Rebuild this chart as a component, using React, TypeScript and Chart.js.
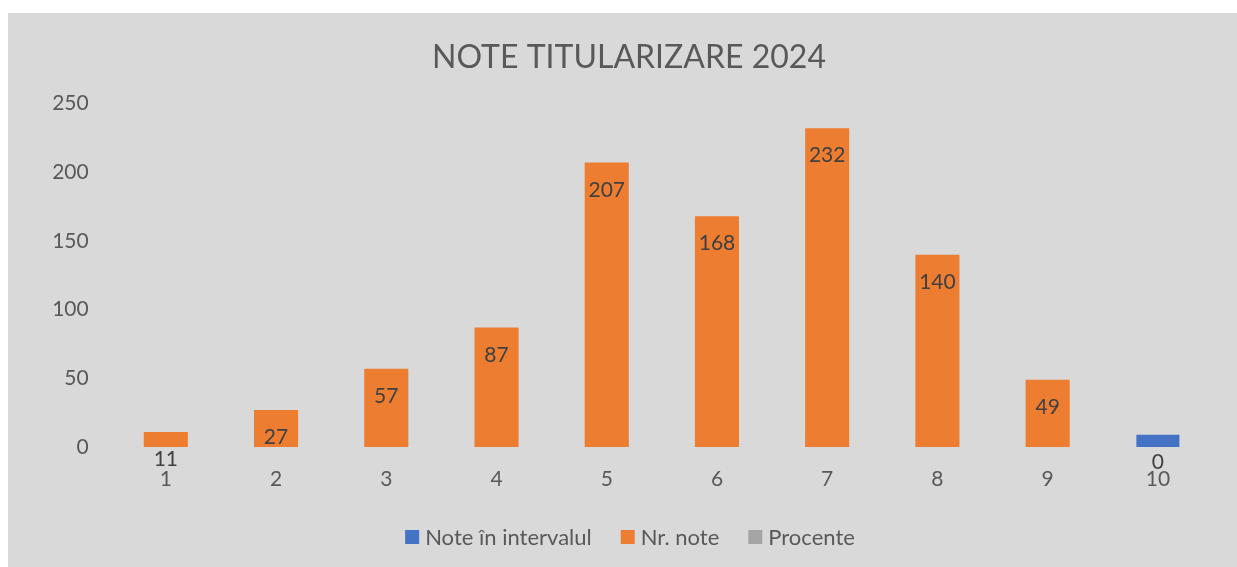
import React, { useEffect, useRef } from "react";
import { Chart, registerables } from "chart.js";

Chart.register(...registerables);

const categories = ["1", "2", "3", "4", "5", "6", "7", "8", "9", "10"];
const noteInterval = [1, 2, 3, 4, 5, 6, 7, 8, 9, 9];
const nrNote = [11, 27, 57, 87, 207, 168, 232, 140, 49, 0];
const procente = [0.011, 0.028, 0.058, 0.089, 0.212, 0.172, 0.237, 0.143, 0.05, 0];
const yTicks = [0, 50, 100, 150, 200, 250];
const title = "NOTE TITULARIZARE 2024";
const seriesNames = ["Note în intervalul", "Nr. note", "Procente"];
const seriesColors = ["#4472C4", "#ED7D31", "#A5A5A5"];

const FONT = "Lato";
const TEXT = "#595959";
const LABEL = "#404040";

const overlay = {
  id: "overlay",
  beforeDraw(chart: any) {
    const { ctx, width, height } = chart;
    ctx.save();
    ctx.fillStyle = "#D9D9D9";
    ctx.fillRect(0, 0, width, height);
    ctx.restore();
  },
  afterDraw(chart: any) {
    const { ctx } = chart;
    ctx.save();
    // title
    ctx.fillStyle = TEXT;
    ctx.font = `32px ${FONT}`;
    ctx.textAlign = "center";
    ctx.textBaseline = "middle";
    ctx.fillText(title, 621, 45);

    // data labels for Nr. note
    const meta = chart.getDatasetMeta(1);
    const yScale = chart.scales.y;
    const base = yScale.getPixelForValue(0);
    ctx.font = `21px ${FONT}`;
    ctx.fillStyle = LABEL;
    meta.data.forEach((bar: any, i: number) => {
      const y = Math.min(bar.y + 27.5, base + 15);
      ctx.fillText(String(nrNote[i]), bar.x, y);
    });

    // legend
    ctx.font = `22px ${FONT}`;
    const box = 14;
    const gap = 6;
    const spacing = 29;
    const widths = seriesNames.map((n) => ctx.measureText(n).width);
    const total =
      widths.reduce((a, w) => a + box + gap + w, 0) + spacing * (seriesNames.length - 1);
    let x = 622 - total / 2;
    const ly = 524;
    ctx.textAlign = "left";
    seriesNames.forEach((n, i) => {
      ctx.fillStyle = seriesColors[i];
      ctx.fillRect(x, ly - box / 2, box, box);
      ctx.fillStyle = TEXT;
      ctx.fillText(n, x + box + gap, ly + 1);
      x += box + gap + widths[i] + spacing;
    });
    ctx.restore();
  },
};

export default function App() {
  const ref = useRef<HTMLCanvasElement>(null);
  useEffect(() => {
    if (!ref.current) return;
    const chart = new Chart(ref.current, {
      type: "bar",
      data: {
        labels: categories,
        datasets: [
          {
            label: seriesNames[0],
            data: noteInterval,
            backgroundColor: seriesColors[0],
            barPercentage: 0.39,
            order: 1,
          },
          {
            label: seriesNames[1],
            data: nrNote,
            backgroundColor: seriesColors[1],
            order: 0,
          },
          {
            label: seriesNames[2],
            data: procente,
            backgroundColor: seriesColors[2],
            barPercentage: 0.39,
            order: 2,
          },
        ],
      },
      options: {
        responsive: false,
        animation: false,
        layout: { padding: { top: 90.5, bottom: 54.8, left: 0, right: 24 } },
        datasets: { bar: { barPercentage: 0.4, categoryPercentage: 1 } },
        plugins: {
          legend: { display: false },
          title: { display: false },
          tooltip: { enabled: false },
        },
        scales: {
          x: {
            stacked: true,
            grid: { display: false, drawTicks: false },
            border: { display: false },
            ticks: { color: TEXT, font: { family: FONT, size: 21 }, padding: 20 },
          },
          y: {
            stacked: false,
            min: 0,
            max: 250,
            grid: { display: false, drawTicks: false },
            border: { display: false },
            afterFit: (scale: any) => {
              scale.width = 102.7;
            },
            afterBuildTicks: (scale: any) => {
              scale.ticks = yTicks.map((v) => ({ value: v }));
            },
            ticks: { color: TEXT, font: { family: FONT, size: 21 }, padding: 22 },
          },
        },
      },
      plugins: [overlay],
    });
    return () => chart.destroy();
  }, []);
  return (
    <div style={{ position: "absolute", left: 8, top: 13, width: 1229, height: 554 }}>
      <canvas ref={ref} width={1229} height={554} style={{ display: "block" }} />
    </div>
  );
}
